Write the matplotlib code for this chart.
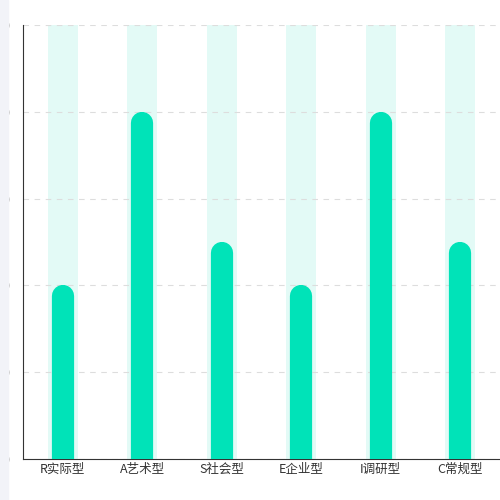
import matplotlib.pyplot as plt

plt.rcParams['font.family'] = ['Noto Sans CJK SC', 'DejaVu Sans']

categories = ["R实际型", "A艺术型", "S社会型", "E企业型", "I调研型", "C常规型"]
values = [2, 4, 2.5, 2, 4, 2.5]
y_max = 5
y_ticks = [0, 1, 2, 3, 4, 5]
y_labels = ["0"] * 6

fig = plt.figure(figsize=(5, 5), dpi=100)
fig.patches.append(plt.Rectangle((0, 0), 0.016, 1, transform=fig.transFigure,
                                 color="#f2f3f8", zorder=0))
ax = fig.add_axes([0.046, 0.082, 0.954, 0.868])

x = list(range(len(categories)))
ax.bar(x, [y_max] * len(x), width=0.38, color="#e3faf6", zorder=1)

px_per_unit = 0.868 * 500 / y_max
r = 11 / px_per_unit
for xi, v in zip(x, values):
    ax.plot([xi, xi], [-1, v - r], color="#00e3b8", linewidth=16,
            solid_capstyle="round", zorder=3)

ax.set_xlim(-0.5, len(x) - 0.5)
ax.set_ylim(0, y_max)
ax.set_yticks(y_ticks)
ax.set_yticklabels(y_labels, color="#666666", fontsize=9)
ax.set_xticks(x)
ax.set_xticklabels(categories, fontsize=9, color="#333333")
ax.tick_params(axis="y", length=0, pad=10)
ax.tick_params(axis="x", length=0, pad=3)
ax.grid(axis="y", color="#dddddd", linestyle=(0, (5, 5)), linewidth=0.8, zorder=0)
for s in ["top", "right"]:
    ax.spines[s].set_visible(False)
ax.spines["left"].set_color("#333333")
ax.spines["bottom"].set_color("#333333")

fig.savefig("out.png")
